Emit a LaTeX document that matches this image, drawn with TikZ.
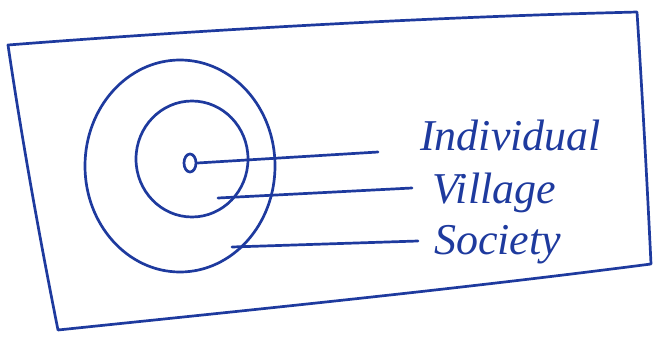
\documentclass[tikz,border=0pt]{standalone}
\usepackage{fontspec}
\setmainfont{Liberation Serif}
\usetikzlibrary{shapes.geometric}
\definecolor{ink}{HTML}{1E3A9E}
\begin{document}
\begin{tikzpicture}[x=1pt,y=-1pt,
  pen/.style={draw=ink,line width=2.7pt,line cap=round,line join=round},
  lbl/.style={text=ink,font=\itshape\fontsize{44}{44}\selectfont,anchor=base west,inner sep=0pt}]
\useasboundingbox (0,0) rectangle (656,340);
% border
\draw[pen] (8,45) .. controls (200,30) and (420,18) .. (600,13) -- (637,12)
  .. controls (642,90) and (647,180) .. (651,264)
  .. controls (450,290) and (250,310) .. (58,330)
  .. controls (40,240) and (22,140) .. (8,45) -- cycle;
% circles
\node[pen,ellipse,minimum width=12pt,minimum height=18pt,inner sep=0pt,draw] (ind) at (190,163) {};
\draw[pen] (192,159) ellipse [x radius=56pt, y radius=58pt];
\draw[pen] (180,166) ellipse [x radius=95pt, y radius=106pt];
% labels
\node[lbl] (tInd) at (420,150) {Individual};
\node[lbl] (tVil) at (432,203) {Village};
\node[lbl] (tSoc) at (434,254) {Society};
% connectors
\coordinate (eInd) at (378,152);
\coordinate (sVil) at (218,198);
\coordinate (sSoc) at (232,247);
\draw[pen] (ind.east) -- (eInd);
\draw[pen] (sVil) -- ([xshift=-20pt,yshift=15pt]tVil.base west);
\draw[pen] (sSoc) -- ([xshift=-16pt,yshift=13pt]tSoc.base west);
\end{tikzpicture}
\end{document}
